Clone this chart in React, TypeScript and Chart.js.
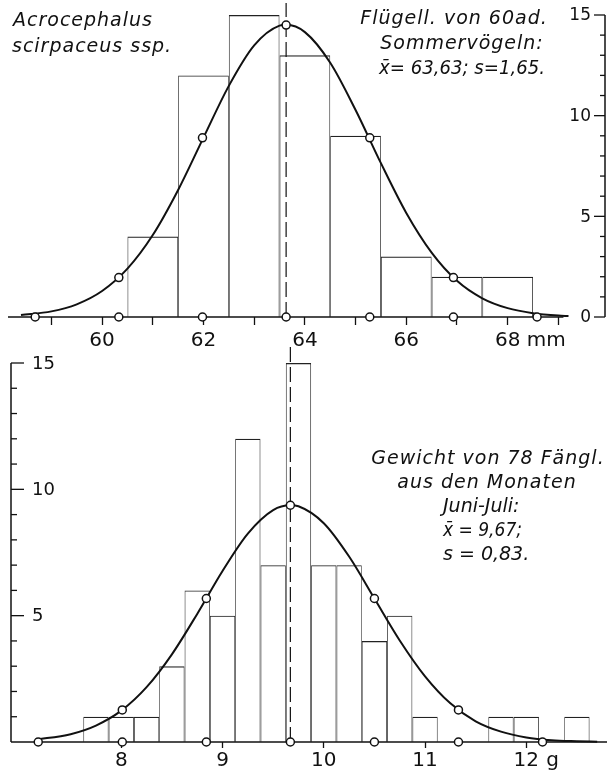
import React, { useEffect, useRef } from 'react';
import { Chart, registerables } from 'chart.js';

Chart.register(...registerables);

// ---------- Upper chart: wing length (mm) ----------
const wingBins = [61, 62, 63, 64, 65, 66, 67, 68];
const wingCounts = [4, 12, 15, 13, 9, 3, 2, 2];
const wingCurveX = [58.4, 59, 59.5, 60, 60.5, 61, 61.5, 62, 62.5, 63, 63.5, 63.63, 64, 64.5, 65, 65.5, 66, 66.5, 67, 67.5, 68, 68.5, 69, 69.2];
const wingCurveY = [0.1, 0.28, 0.63, 1.29, 2.4, 4.07, 6.31, 8.91, 11.48, 13.49, 14.47, 14.51, 14.15, 12.63, 10.28, 7.64, 5.17, 3.2, 1.8, 0.93, 0.44, 0.19, 0.07, 0.05];
const wingMarkAxisX = [58.68, 60.33, 61.98, 63.63, 65.28, 66.93, 68.58];
const wingMarkCurveX = [60.33, 61.98, 63.63, 65.28, 66.93];
const wingMarkCurveY = [1.96, 8.9, 14.5, 8.9, 1.96];
const wingMean = 63.63;
const wingXTicks = [59, 60, 61, 62, 63, 64, 65, 66, 67, 68, 69];
const wingXLabels = ['', '60', '', '62', '', '64', '', '66', '', '68', ''];
const wingYTicks = [0, 1, 2, 3, 4, 5, 6, 7, 8, 9, 10, 11, 12, 13, 14, 15];
const wingYLabels = ['0', '', '', '', '', '5', '', '', '', '', '10', '', '', '', '', '15'];

// ---------- Lower chart: weight (g) ----------
const weightBins = [7.75, 8.0, 8.25, 8.5, 8.75, 9.0, 9.25, 9.5, 9.75, 10.0, 10.25, 10.5, 10.75, 11.0, 11.25, 11.5, 11.75, 12.0, 12.25, 12.5];
const weightCounts = [1, 1, 1, 3, 6, 5, 12, 7, 15, 7, 7, 4, 5, 1, 0, 0, 1, 1, 0, 1];
const weightCurveX = [7.15, 7.5, 7.75, 8.0, 8.25, 8.5, 8.75, 9.0, 9.25, 9.5, 9.67, 9.75, 10.0, 10.25, 10.5, 10.75, 11.0, 11.25, 11.5, 11.75, 12.0, 12.25, 12.5, 12.7];
const weightCurveY = [0.09, 0.31, 0.65, 1.24, 2.17, 3.47, 5.07, 6.77, 8.25, 9.18, 9.37, 9.33, 8.66, 7.34, 5.68, 4.02, 2.6, 1.53, 0.82, 0.41, 0.18, 0.07, 0.03, 0.01];
const weightMarkAxisX = [7.18, 8.01, 8.84, 9.67, 10.5, 11.33, 12.16];
const weightMarkCurveX = [8.01, 8.84, 9.67, 10.5, 11.33];
const weightMarkCurveY = [1.27, 5.68, 9.37, 5.68, 1.27];
const weightMean = 9.67;
const weightXTicks = [8, 9, 10, 11, 12];
const weightXLabels = ['8', '9', '10', '11', '12'];
const weightYTicks = [0, 1, 2, 3, 4, 5, 6, 7, 8, 9, 10, 11, 12, 13, 14, 15];
const weightYLabels = ['', '', '', '', '', '5', '', '', '', '', '10', '', '', '', '', '15'];

const INK = '#111';
const BAR = '#222';
const FONT = '"DejaVu Sans", sans-serif';

type TextItem = { text: string; x: number; y: number; align: CanvasTextAlign; spacing: number; maxWidth?: number };

const wingTexts: TextItem[] = [
  { text: 'Acrocephalus', x: 13, y: 26, align: 'left', spacing: 1 },
  { text: 'scirpaceus ssp.', x: 12, y: 52, align: 'left', spacing: 1 },
  { text: 'Flügell. von 60ad.', x: 454, y: 24, align: 'center', spacing: 1 },
  { text: 'Sommervögeln:', x: 462, y: 49, align: 'center', spacing: 1 },
  { text: 'x̄= 63,63; s=1,65.', x: 462, y: 74, align: 'center', spacing: 0, maxWidth: 166 },
];

const weightTexts: TextItem[] = [
  { text: 'Gewicht von 78 Fängl.', x: 488, y: 464, align: 'center', spacing: 1 },
  { text: 'aus den Monaten', x: 487, y: 488, align: 'center', spacing: 1 },
  { text: 'Juni-Juli:', x: 443, y: 512, align: 'left', spacing: 0 },
  { text: 'x̄ = 9,67;', x: 443, y: 536, align: 'left', spacing: 0, maxWidth: 79 },
  { text: 's = 0,83.', x: 443, y: 560, align: 'left', spacing: 0 },
];

function drawTexts(ctx: CanvasRenderingContext2D, items: TextItem[]) {
  ctx.save();
  ctx.fillStyle = INK;
  ctx.font = `italic 19px ${FONT}`;
  ctx.textBaseline = 'alphabetic';
  items.forEach((t) => {
    try { (ctx as any).letterSpacing = `${t.spacing}px`; } catch (e) { /* ignore */ }
    ctx.textAlign = t.align;
    if (t.maxWidth) ctx.fillText(t.text, t.x, t.y, t.maxWidth);
    else ctx.fillText(t.text, t.x, t.y);
  });
  ctx.restore();
}

function seg(ctx: CanvasRenderingContext2D, x1: number, y1: number, x2: number, y2: number) {
  ctx.beginPath();
  ctx.moveTo(x1, y1);
  ctx.lineTo(x2, y2);
  ctx.stroke();
}

const wingPlugin = {
  id: 'wingAxes',
  beforeDatasetsDraw(chart: any) {
    const { ctx, chartArea, scales } = chart;
    const x = scales.x;
    const y = scales.y;
    ctx.save();
    ctx.strokeStyle = INK;
    ctx.lineWidth = 1.5;
    const y0 = y.getPixelForValue(0);
    // x axis line (ends short of the right-hand y axis)
    seg(ctx, chartArea.left, y0, x.getPixelForValue(69.1), y0);
    // right-hand y axis with inward ticks
    const ax = chartArea.right;
    seg(ctx, ax, y.getPixelForValue(0), ax, y.getPixelForValue(15));
    ctx.fillStyle = INK;
    ctx.font = `17px ${FONT}`;
    ctx.textAlign = 'right';
    ctx.textBaseline = 'middle';
    wingYTicks.forEach((v, i) => {
      const py = y.getPixelForValue(v);
      const major = wingYLabels[i] !== '';
      ctx.lineWidth = 1.3;
      seg(ctx, ax - (major ? 11 : 5), py, ax, py);
      if (major) ctx.fillText(wingYLabels[i], ax - 14, py + 1);
    });
    ctx.restore();
  },
  afterDraw(chart: any) {
    const { ctx, scales } = chart;
    drawTexts(ctx, wingTexts);
    ctx.save();
    ctx.fillStyle = INK;
    ctx.font = `20px ${FONT}`;
    ctx.textAlign = 'left';
    ctx.textBaseline = 'middle';
    const px = scales.x.getPixelForValue(68);
    ctx.fillText('mm', px + 19, scales.y.getPixelForValue(0) + 24);
    ctx.restore();
  },
};

const weightPlugin = {
  id: 'weightAxes',
  beforeDatasetsDraw(chart: any) {
    const { ctx, chartArea, scales } = chart;
    const y = scales.y;
    ctx.save();
    ctx.strokeStyle = INK;
    ctx.lineWidth = 1.5;
    const y0 = y.getPixelForValue(0);
    seg(ctx, chartArea.left, y0, chartArea.right, y0);
    const ax = chartArea.left;
    seg(ctx, ax, y.getPixelForValue(0), ax, y.getPixelForValue(15));
    ctx.fillStyle = INK;
    ctx.font = `18px ${FONT}`;
    ctx.textAlign = 'left';
    ctx.textBaseline = 'middle';
    weightYTicks.forEach((v, i) => {
      const py = y.getPixelForValue(v);
      const major = weightYLabels[i] !== '' || v === 0;
      ctx.lineWidth = 1.3;
      if (v !== 0) seg(ctx, ax, py, ax + (major ? 13 : 6), py);
      if (weightYLabels[i] !== '') ctx.fillText(weightYLabels[i], ax + 21, py + 1);
    });
    ctx.restore();
  },
  afterDraw(chart: any) {
    const { ctx, scales } = chart;
    drawTexts(ctx, weightTexts);
    ctx.save();
    ctx.fillStyle = INK;
    ctx.font = `20px ${FONT}`;
    ctx.textAlign = 'left';
    ctx.textBaseline = 'middle';
    const px = scales.x.getPixelForValue(12);
    ctx.fillText('g', px + 20, scales.y.getPixelForValue(0) + 19);
    ctx.restore();
  },
};

function buildConfig(opts: {
  bins: number[]; counts: number[]; curveX: number[]; curveY: number[];
  markAxisX: number[]; markCurveX: number[]; markCurveY: number[]; mean: number; meanTop: number;
  xMin: number; xMax: number; xTicks: number[]; xLabels: string[];
  padding: { left: number; right: number; top: number; bottom: number };
  xHeight: number; tickLength: number; tickPadding: number; plugin: any;
}) {
  const markStyle = {
    type: 'line' as const,
    showLine: false,
    pointRadius: 4,
    pointBorderWidth: 1.5,
    pointBackgroundColor: '#fff',
    pointBorderColor: INK,
    clip: false as any,
  };
  return {
    type: 'bar' as const,
    data: {
      datasets: [
        { ...markStyle, label: 'curve marks', order: 0, data: opts.markCurveX.map((x, i) => ({ x, y: opts.markCurveY[i] })) },
        { ...markStyle, label: 'axis marks', order: 0, data: opts.markAxisX.map((x) => ({ x, y: 0 })) },
        {
          type: 'line' as const, label: 'normal curve', order: 1,
          data: opts.curveX.map((x, i) => ({ x, y: opts.curveY[i] })),
          borderColor: INK, borderWidth: 2, pointRadius: 0, cubicInterpolationMode: 'monotone', fill: false, clip: false as any,
        },
        {
          type: 'line' as const, label: 'mean', order: 2,
          data: [{ x: opts.mean, y: 0 }, { x: opts.mean, y: opts.meanTop }],
          borderColor: INK, borderWidth: 1.2, borderDash: [15, 5], pointRadius: 0, fill: false, clip: false as any,
        },
        {
          type: 'bar' as const, label: 'counts', order: 3,
          data: opts.bins.map((x, i) => ({ x, y: opts.counts[i] })),
          backgroundColor: 'rgba(0,0,0,0)', borderColor: BAR,
          borderWidth: { top: 1.2, left: 0.75, right: 0.75, bottom: 0 },
          inflateAmount: 0,
          barPercentage: 1, categoryPercentage: 1, borderSkipped: 'start',
        },
      ],
    },
    options: {
      responsive: false,
      animation: false as const,
      events: [] as any[],
      layout: { padding: opts.padding, autoPadding: false },
      plugins: { legend: { display: false }, tooltip: { enabled: false } },
      scales: {
        x: {
          type: 'linear' as const,
          min: opts.xMin,
          max: opts.xMax,
          offset: false,
          afterFit: (s: any) => { s.height = opts.xHeight; },
          afterBuildTicks: (s: any) => { s.ticks = opts.xTicks.map((v) => ({ value: v })); },
          grid: { display: true, drawOnChartArea: false, drawTicks: true, tickLength: opts.tickLength, tickColor: INK, tickWidth: 1.3, offset: false },
          border: { display: false },
          ticks: {
            autoSkip: false, maxRotation: 0, minRotation: 0, padding: opts.tickPadding, color: INK,
            font: { family: FONT, size: 20 },
            callback: (v: any) => { const k = opts.xTicks.indexOf(Number(v)); return k >= 0 ? opts.xLabels[k] : ''; },
          },
        },
        y: { type: 'linear' as const, display: false, min: 0, max: 15 },
      },
    },
    plugins: [opts.plugin],
  };
}

export default function App() {
  const topRef = useRef<HTMLCanvasElement>(null);
  const bottomRef = useRef<HTMLCanvasElement>(null);

  useEffect(() => {
    const top = new Chart(topRef.current as HTMLCanvasElement, buildConfig({
      bins: wingBins, counts: wingCounts, curveX: wingCurveX, curveY: wingCurveY,
      markAxisX: wingMarkAxisX, markCurveX: wingMarkCurveX, markCurveY: wingMarkCurveY,
      mean: wingMean, meanTop: 15.6,
      xMin: 58.144, xMax: 69.92, xTicks: wingXTicks, xLabels: wingXLabels,
      padding: { left: 8, right: 3, top: 15, bottom: 415 },
      xHeight: 40, tickLength: 8, tickPadding: 4, plugin: wingPlugin,
    }) as any);
    const bottom = new Chart(bottomRef.current as HTMLCanvasElement, buildConfig({
      bins: weightBins, counts: weightCounts, curveX: weightCurveX, curveY: weightCurveY,
      markAxisX: weightMarkAxisX, markCurveX: weightMarkCurveX, markCurveY: weightMarkCurveY,
      mean: weightMean, meanTop: 15.63,
      xMin: 6.911, xMax: 12.797, xTicks: weightXTicks, xLabels: weightXLabels,
      padding: { left: 11, right: 1, top: 363, bottom: 0 },
      xHeight: 30, tickLength: 6, tickPadding: 1, plugin: weightPlugin,
    }) as any);
    return () => { top.destroy(); bottom.destroy(); };
  }, []);

  const canvasStyle: React.CSSProperties = { position: 'absolute', left: 0, top: 0, width: 608, height: 772 };
  return (
    <div style={{ position: 'absolute', left: 0, top: 0, width: 608, height: 772, background: '#fff' }}>
      <canvas ref={topRef} width={608} height={772} style={canvasStyle} />
      <canvas ref={bottomRef} width={608} height={772} style={canvasStyle} />
    </div>
  );
}
